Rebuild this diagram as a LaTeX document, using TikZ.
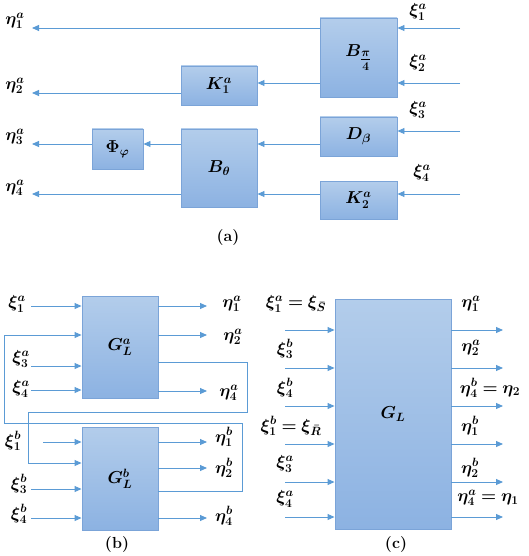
\documentclass[tikz,border=0pt]{standalone}
\usepackage{amsmath,bm}
\usetikzlibrary{arrows.meta}
\definecolor{lineblue}{HTML}{5B9BD5}
\definecolor{boxtop}{HTML}{B3CDEB}
\definecolor{boxbot}{HTML}{8CB2E2}
\definecolor{boxedge}{HTML}{7BA4D8}
\begin{document}
\begin{tikzpicture}[x=1pt,y=-1pt,>={Triangle[length=7pt,width=6pt]},line width=0.9pt]
  \tikzstyle{blk}=[draw=boxedge, top color=boxtop, bottom color=boxbot, inner sep=0pt,
    font=\fontsize{17.28}{20}\selectfont]
  \tikzstyle{lbl}=[inner sep=0pt, font=\fontsize{17.28}{20}\selectfont]
  \tikzstyle{sig}=[lineblue, ->]
  \tikzstyle{captxt}=[font=\bfseries\fontsize{16}{19}\selectfont]

  \useasboundingbox (0,0) rectangle (528,556);

  % (a)
  \node[blk, minimum width=77pt, minimum height=79pt] (bpi) at (358.5,57.5) {$\bm{B_{\tfrac{\pi}{4}}}$};
  \node[blk, minimum width=76pt, minimum height=39pt] (ka1) at (219,85.5) {$\bm{K_1^a}$};
  \node[blk, minimum width=77pt, minimum height=39pt] (dbeta) at (358.5,136.5) {$\bm{D_\beta}$};
  \node[blk, minimum width=76pt, minimum height=78pt] (btheta) at (219,168) {$\bm{B_\theta}$};
  \node[blk, minimum width=51pt, minimum height=40pt] (phi) at (117.5,149) {$\bm{\Phi_\varphi}$};
  \node[blk, minimum width=77pt, minimum height=38pt] (ka2) at (358.5,200) {$\bm{K_2^a}$};

  \coordinate (xa1) at (460,28);
  \coordinate (xa2) at (460,83);
  \coordinate (xa3) at (460,131);
  \coordinate (xa4) at (460,194);
  \coordinate (ea1) at (32,28);
  \coordinate (ea2) at (32,93);
  \coordinate (ea3) at (32,144);
  \coordinate (ea4) at (32,194);

  \draw[sig] (xa1) -- (xa1 -| bpi.east);
  \draw[sig] (xa2) -- (xa2 -| bpi.east);
  \draw[sig] (xa3) -- (xa3 -| dbeta.east);
  \draw[sig] (xa4) -- (xa4 -| ka2.east);
  \draw[sig] (ea1 -| bpi.west) -- (ea1);
  \draw[sig] (xa2 -| bpi.west) -- (xa2 -| ka1.east);
  \draw[sig] (ea2 -| ka1.west) -- (ea2);
  \draw[sig] (ea3 -| dbeta.west) -- (ea3 -| btheta.east);
  \draw[sig] (ea4 -| ka2.west) -- (ea4 -| btheta.east);
  \draw[sig] (ea3 -| btheta.west) -- (ea3 -| phi.east);
  \draw[sig] (ea3 -| phi.west) -- (ea3);
  \draw[sig] (ea4 -| btheta.west) -- (ea4);

  \node[lbl] (lxa1) at (418,12) {$\bm{\xi_1^a}$};
  \node[lbl] (lxa2) at (418,63) {$\bm{\xi_2^a}$};
  \node[lbl] (lxa3) at (418,110) {$\bm{\xi_3^a}$};
  \node[lbl] (lxa4) at (422,173) {$\bm{\xi_4^a}$};
  \node[lbl] (lea1) at (15,21) {$\bm{\eta_1^a}$};
  \node[lbl] (lea2) at (15,86) {$\bm{\eta_2^a}$};
  \node[lbl] (lea3) at (15,137) {$\bm{\eta_3^a}$};
  \node[lbl] (lea4) at (15,188) {$\bm{\eta_4^a}$};
  \node[captxt] (capa) at (228,238) {(a)};

  % (b)
  \node[blk, minimum width=76pt, minimum height=102pt] (ga) at (120,347) {$\bm{G_L^a}$};
  \node[blk, minimum width=76pt, minimum height=103pt] (gb) at (120,478.5) {$\bm{G_L^b}$};

  \coordinate (ia1) at (31,306);
  \coordinate (ia3) at (31,366);
  \coordinate (ia4) at (31,390);
  \coordinate (oa1) at (207,306);
  \coordinate (oa2) at (207,335);
  \coordinate (oa4) at (207,391);
  \coordinate (ib1) at (43,442);
  \coordinate (ib3) at (31,489);
  \coordinate (ib4) at (31,518);
  \coordinate (ob1) at (207,442);
  \coordinate (ob2) at (207,468);
  \coordinate (ob4) at (207,518);
  \foreach \p in {ia1,ia3,ia4} \draw[sig] (\p) -- (\p -| ga.west);
  \foreach \p in {oa1,oa2,oa4} \draw[sig] (\p -| ga.east) -- (\p);
  \foreach \p in {ib1,ib3,ib4} \draw[sig] (\p) -- (\p -| gb.west);
  \foreach \p in {ob1,ob2,ob4} \draw[sig] (\p -| gb.east) -- (\p);

  % feedback loops
  \coordinate (fa1) at (247,362);
  \coordinate (fa2) at (28,412);
  \coordinate (fa3) at (28,463);
  \draw[sig] (fa1 -| ga.east) -- (fa1) |- (fa2) -- (fa3) -- (fa3 -| gb.west);
  \coordinate (fb1) at (242,491);
  \coordinate (fb2) at (4,423);
  \coordinate (fb3) at (4,335);
  \draw[sig] (fb1 -| gb.east) -- (fb1) |- (fb2) -- (fb3) -- (fb3 -| ga.west);

  \node[lbl] (lia1) at (17,304) {$\bm{\xi_1^a}$};
  \node[lbl] (lia3) at (21,359) {$\bm{\xi_3^a}$};
  \node[lbl] (lia4) at (21,389) {$\bm{\xi_4^a}$};
  \node[lbl] (lib1) at (13,441) {$\bm{\xi_1^b}$};
  \node[lbl] (lib3) at (19,484) {$\bm{\xi_3^b}$};
  \node[lbl] (lib4) at (19,514) {$\bm{\xi_4^b}$};
  \node[lbl] (loa1) at (232,304) {$\bm{\eta_1^a}$};
  \node[lbl] (loa2) at (233,337) {$\bm{\eta_2^a}$};
  \node[lbl] (loa4) at (229,393) {$\bm{\eta_4^a}$};
  \node[lbl] (lob1) at (224,437) {$\bm{\eta_1^b}$};
  \node[lbl] (lob2) at (224,468) {$\bm{\eta_2^b}$};
  \node[lbl] (lob4) at (224,516) {$\bm{\eta_4^b}$};
  \node[captxt] (capb) at (117,545) {(b)};

  % (c)
  \node[blk, minimum width=116pt, minimum height=230pt] (gl) at (393,414) {$\bm{G_L}$};
  \foreach \y [count=\i] in {330,368,406,444,482,517} {
    \coordinate (ci\i) at (285,\y);
    \coordinate (co\i) at (503,\y);
    \draw[sig] (ci\i) -- (ci\i -| gl.west);
    \draw[sig] (co\i -| gl.east) -- (co\i);
  }
  \node[lbl] (lci1) at (296,304) {$\bm{\xi_1^a = \xi_{\bar{S}}}$};
  \node[lbl] (lci2) at (285,349) {$\bm{\xi_3^b}$};
  \node[lbl] (lci3) at (285,388) {$\bm{\xi_4^b}$};
  \node[lbl] (lci4) at (291,426) {$\bm{\xi_1^b = \xi_{\bar{R}}}$};
  \node[lbl] (lci5) at (285,464) {$\bm{\xi_3^a}$};
  \node[lbl] (lci6) at (285,499) {$\bm{\xi_4^a}$};
  \node[lbl] (lco1) at (471,304) {$\bm{\eta_1^a}$};
  \node[lbl] (lco2) at (471,348) {$\bm{\eta_2^a}$};
  \node[lbl] (lco3) at (490,388) {$\bm{\eta_4^b = \eta_2}$};
  \node[lbl] (lco4) at (470,426) {$\bm{\eta_1^b}$};
  \node[lbl] (lco5) at (470,468) {$\bm{\eta_2^b}$};
  \node[lbl] (lco6) at (488,498) {$\bm{\eta_4^a = \eta_1}$};
  \node[captxt] (capc) at (396,545) {(c)};
\end{tikzpicture}
\end{document}
